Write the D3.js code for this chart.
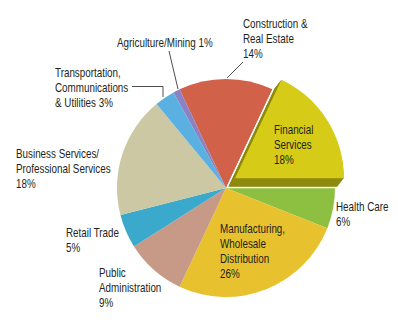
<!DOCTYPE html>
<html>
<head>
<meta charset="utf-8">
<script src="https://cdn.jsdelivr.net/npm/d3@7"></script>
<style>
  html, body { margin: 0; padding: 0; background: #fff; }
  svg { display: block; }
  text { font-family: "Liberation Sans", Arial, sans-serif; font-size: 12px; fill: #231f20; }
</style>
</head>
<body>
<svg id="chart" width="398" height="322"></svg>
<script>
// ---- data ----
const categories = [
  "Construction & Real Estate",
  "Financial Services",
  "Health Care",
  "Manufacturing, Wholesale Distribution",
  "Public Administration",
  "Retail Trade",
  "Business Services/ Professional Services",
  "Transportation, Communications & Utilities",
  "Agriculture/Mining"
];
const values = [14, 18, 6, 26, 9, 5, 18, 3, 1];
const labelLines = [
  ["Construction &", "Real Estate", "14%"],
  ["Financial", "Services", "18%"],
  ["Health Care", "6%"],
  ["Manufacturing,", "Wholesale", "Distribution", "26%"],
  ["Public", "Administration", "9%"],
  ["Retail Trade", "5%"],
  ["Business Services/", "Professional Services", "18%"],
  ["Transportation,", "Communications", "& Utilities 3%"],
  ["Agriculture/Mining 1%"]
];

// ---- styling / layout ----
const colors = ["#d2614a", "#d6cb17", "#8dc041", "#e8c22e", "#c79a88", "#3ba9cc", "#cbc8a3", "#5bb0e2", "#8a82c2"];
const explodedIndex = 1;
const darkColor = "#8e8a0e";
const cx = 226, cy = 188, R = 109;
const faceOffset = [9, -9.7];
const baseOffset = [2.3, -1.2];
const labelPos = [
  [243, 28], [274, 134], [336, 211], [220, 233], [99, 277], [66, 237], [16, 158], [55, 77], [117, 47]
];
const lineH = 15;
const textScaleX = 0.82;
const leaders = [
  [[243, 62], [227, 78]],
  null, null, null, null, null, null,
  [[132, 86.5], [163, 86.5], [163, 97]],
  [[169, 51], [178, 89]]
];

const svg = d3.select("#chart");
const total = d3.sum(values);
const before = d3.sum(values.slice(0, explodedIndex + 1));
const start = Math.PI / 2 - 2 * Math.PI * before / total;

const pie = d3.pie().sort(null).value(d => d).startAngle(start).endAngle(start + 2 * Math.PI);
const arcs = pie(values);
const arc = d3.arc().innerRadius(0).outerRadius(R);

const g = svg.append("g").attr("transform", `translate(${cx},${cy})`);

g.selectAll("path.slice")
  .data(arcs.filter((d, i) => i !== explodedIndex))
  .join("path")
  .attr("class", "slice")
  .attr("d", arc)
  .attr("fill", d => colors[d.index]);

// exploded slice with extrusion
const ex = arcs[explodedIndex];
const steps = 14;
for (let s = 0; s <= steps; s++) {
  const t = s / steps;
  const ox = baseOffset[0] + (faceOffset[0] - baseOffset[0]) * t;
  const oy = baseOffset[1] + (faceOffset[1] - baseOffset[1]) * t;
  g.append("path").attr("d", arc(ex)).attr("transform", `translate(${ox},${oy})`)
    .attr("fill", "#fff").attr("stroke", "#fff").attr("stroke-width", 3).attr("stroke-linejoin", "round");
}
for (let s = 0; s < steps; s++) {
  const t = s / steps;
  const ox = baseOffset[0] + (faceOffset[0] - baseOffset[0]) * t;
  const oy = baseOffset[1] + (faceOffset[1] - baseOffset[1]) * t;
  g.append("path").attr("d", arc(ex)).attr("transform", `translate(${ox},${oy})`)
    .attr("fill", darkColor);
}
g.append("path").attr("d", arc(ex)).attr("transform", `translate(${faceOffset[0]},${faceOffset[1]})`)
  .attr("fill", colors[explodedIndex]);

// leaders
const line = d3.line();
leaders.forEach(l => {
  if (!l) return;
  svg.append("path").attr("d", line(l)).attr("fill", "none").attr("stroke", "#231f20").attr("stroke-width", 0.8);
});

// labels (condensed by horizontal scaling)
labelLines.forEach((lines, i) => {
  const t = svg.append("text")
    .attr("transform", `translate(${labelPos[i][0]},${labelPos[i][1]}) scale(${textScaleX},1)`);
  lines.forEach((s, j) => {
    t.append("tspan").attr("x", 0).attr("dy", j === 0 ? 0 : lineH).text(s);
  });
});
</script>
</body>
</html>
